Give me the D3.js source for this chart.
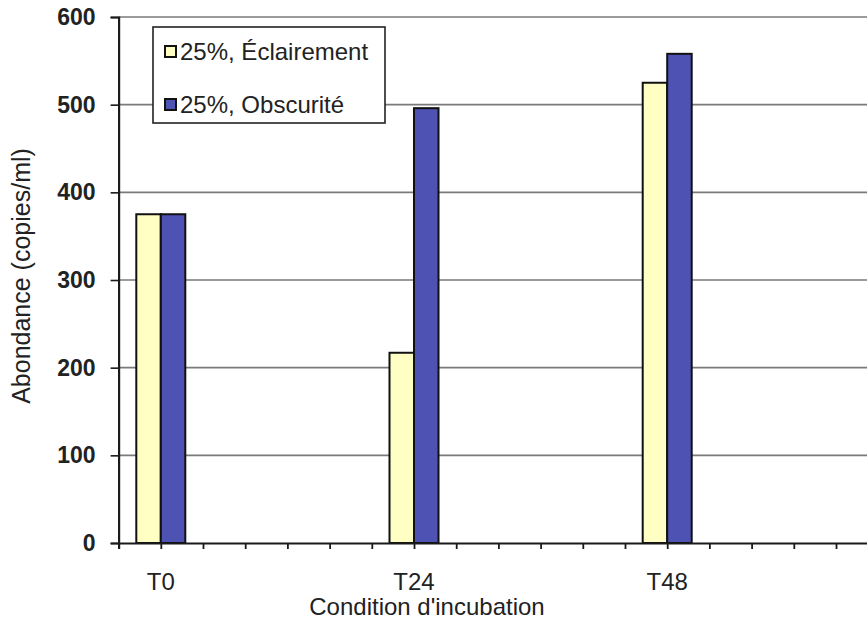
<!DOCTYPE html>
<html>
<head>
<meta charset="utf-8">
<script src="https://cdn.jsdelivr.net/npm/d3@7"></script>
<style>
  body { margin: 0; background: #fff; }
  svg { display: block; font-family: "Liberation Sans", Arial, sans-serif; }
</style>
</head>
<body>
<svg id="chart" width="867" height="631"></svg>
<script>
// ---- data ----
const categories = ["T0", "T24", "T48"];
const hours = [0, 24, 48];
const seriesNames = ["25%, Éclairement", "25%, Obscurité"];
const eclairement = [375, 217, 525];
const obscurite = [375, 496, 558];
const yTicks = [0, 100, 200, 300, 400, 500, 600];
const xTickHours = [-4, 0, 4, 8, 12, 16, 20, 24, 28, 32, 36, 40, 44, 48, 52, 56, 60, 64, 68, 72];
const colors = ["#FFFFC4", "#4E52B2"];

const svg = d3.select("#chart");
const W = 867, H = 631;
const plotLeft = 118.6, plotTop = 17, plotBottom = 543;
const pxPerHour = 10.55;

const x = d3.scaleLinear().domain([-4, 72]).range([plotLeft, plotLeft + 76 * pxPerHour]);
const y = d3.scaleLinear().domain([0, 600]).range([plotBottom, plotTop]);
const offset = d3.scaleBand().domain(seriesNames).range([-24.5, 24.5]).padding(0);

const values = [eclairement, obscurite];

// gridlines
svg.append("g").selectAll("line").data(yTicks.filter(d => d > 0)).join("line")
  .attr("x1", plotLeft).attr("x2", W)
  .attr("y1", d => y(d)).attr("y2", d => y(d))
  .attr("stroke", "#7a7a7a").attr("stroke-width", 1.6);

// bars
const g = svg.append("g");
seriesNames.forEach((s, si) => {
  g.append("g").selectAll("rect").data(hours).join("rect")
    .attr("x", (h) => x(h) + offset(s))
    .attr("width", offset.bandwidth())
    .attr("y", (h, i) => y(values[si][i]))
    .attr("height", (h, i) => y(0) - y(values[si][i]))
    .attr("fill", colors[si])
    .attr("stroke", "#111")
    .attr("stroke-width", 2);
});

// y axis
const yAxis = d3.axisLeft(y).tickValues(yTicks).tickSize(8).tickPadding(15).tickFormat(d3.format("d"));
const ya = svg.append("g").attr("transform", `translate(${plotLeft},0)`).call(yAxis);
ya.select(".domain").attr("stroke", "#1a1a1a").attr("stroke-width", 2.2);
ya.selectAll(".tick line").attr("stroke", "#1a1a1a").attr("stroke-width", 1.6);
ya.selectAll(".tick text").attr("font-size", 23).attr("font-weight", "bold").attr("fill", "#222")
  .attr("font-family", "Liberation Sans, Arial, sans-serif");

// x axis
const xAxis = d3.axisBottom(x).tickValues(xTickHours).tickSize(6).tickFormat("");
const xa = svg.append("g").attr("transform", `translate(0,${plotBottom})`).call(xAxis);
xa.select(".domain").attr("stroke", "#1a1a1a").attr("stroke-width", 2.2);
xa.selectAll(".tick line").attr("stroke", "#1a1a1a").attr("stroke-width", 1.8);

// category labels
svg.append("g").selectAll("text").data(categories).join("text")
  .attr("x", (d, i) => x(hours[i]))
  .attr("y", 590)
  .attr("text-anchor", "middle")
  .attr("font-size", 24)
  .attr("fill", "#222")
  .text(d => d);

// axis titles
svg.append("text")
  .attr("x", 427).attr("y", 615)
  .attr("text-anchor", "middle")
  .attr("font-size", 24)
  .attr("fill", "#222")
  .text("Condition d'incubation");

svg.append("text")
  .attr("transform", `translate(30,276) rotate(-90)`)
  .attr("text-anchor", "middle")
  .attr("font-size", 25)
  .attr("fill", "#222")
  .text("Abondance (copies/ml)");

// legend
const lg = svg.append("g").attr("transform", "translate(153,27)");
lg.append("rect").attr("width", 232).attr("height", 96)
  .attr("fill", "#fff").attr("stroke", "#222").attr("stroke-width", 1.6);
seriesNames.forEach((s, i) => {
  const row = lg.append("g").attr("transform", `translate(0,${24 + i * 53})`);
  row.append("rect").attr("x", 12).attr("y", -5).attr("width", 11).attr("height", 11)
    .attr("fill", colors[i]).attr("stroke", "#111").attr("stroke-width", 2);
  row.append("text").attr("x", 27).attr("y", 9)
    .attr("font-size", 24).attr("fill", "#222").text(s);
});
</script>
</body>
</html>
